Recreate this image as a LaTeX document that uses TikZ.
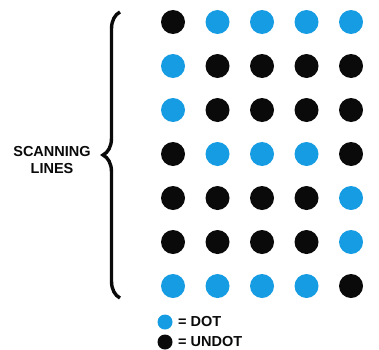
\documentclass[tikz,border=0pt]{standalone}
\usepackage{fontspec}
\setmainfont{Liberation Sans}
\usetikzlibrary{decorations.pathreplacing}
\definecolor{dotcyan}{RGB}{22,156,226}
\definecolor{undotblack}{RGB}{10,10,10}
\begin{document}
\begin{tikzpicture}[x=1pt,y=1pt,
  cdot/.style={circle,fill=dotcyan,minimum size=24pt,inner sep=0pt},
  bdot/.style={circle,fill=undotblack,minimum size=24pt,inner sep=0pt},
  lcdot/.style={circle,fill=dotcyan,minimum size=15pt,inner sep=0pt},
  lbdot/.style={circle,fill=undotblack,minimum size=15pt,inner sep=0pt},
  lbl/.style={font=\fontsize{14.5}{16}\selectfont\bfseries,text=undotblack,inner sep=0pt},
  leg/.style={font=\fontsize{14.5}{16}\selectfont\bfseries,text=undotblack,inner sep=0pt,anchor=west}]
\useasboundingbox (0,0) rectangle (379,349);
% rows top to bottom
\foreach \r/\pat in {1/{b,c,c,c,c},2/{c,b,b,b,b},3/{c,b,b,b,b},4/{b,c,c,c,b},5/{b,b,b,b,c},6/{b,b,b,b,c},7/{c,c,c,c,b}}{
  \foreach \k [count=\c] in \pat {
    \node[\k dot] (d\r\c) at ({173+44.5*(\c-1)},{349-22-44*(\r-1)}) {};
  }
}
% brace
\coordinate (bt) at (120,337);
\coordinate (bb) at (120,51);
\draw[line width=3.4pt,undotblack,decorate,decoration={brace,amplitude=17pt}] (bb) -- (bt);
\node[lbl,align=center] (scan) at (52,189) {SCANNING\\[1pt]LINES};
% legend
\node[lcdot] (lc) at (165,27) {};
\node[lbdot] (lb) at (165,7) {};
\node[leg] (lct) at (178,27) {= DOT};
\node[leg] (lbt) at (178,7) {= UNDOT};
\end{tikzpicture}
\end{document}
